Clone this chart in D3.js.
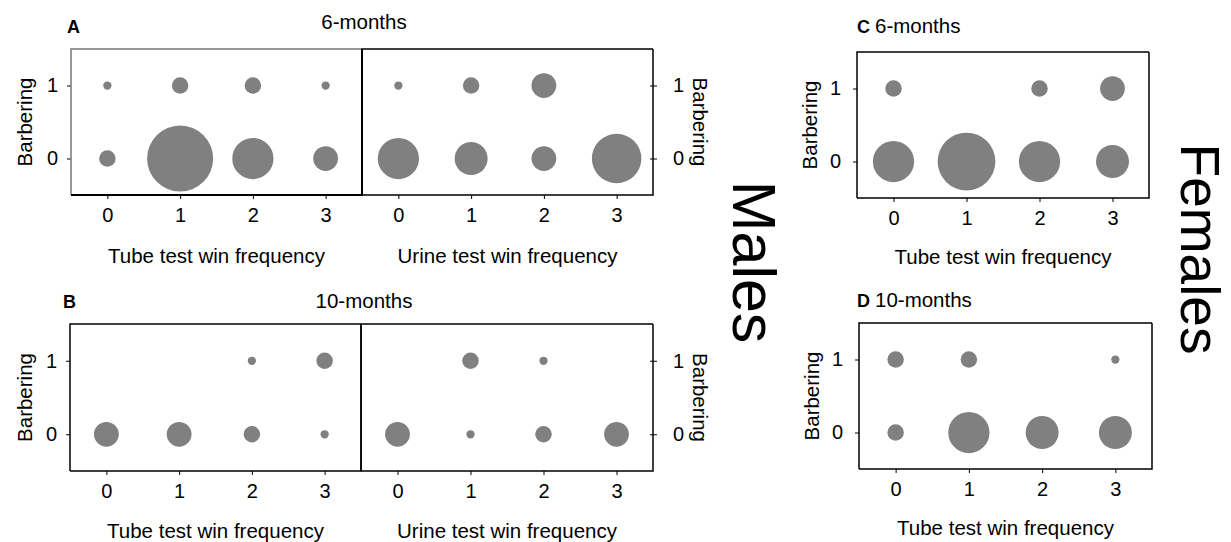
<html>
	<head>
		<script type="text/javascript" src="https://cdn.jsdelivr.net/npm/d3@7"></script>
		<style>
			body { margin: 0; background: #fff; }
			text { font-family: "Liberation Sans", Arial, sans-serif; fill: #000; }
		</style>
	</head>
	<body>
		<script type="text/javascript">

			// categories
			var winCats = [0, 1, 2, 3],
				barbCats = [0, 1];

			// counts: [barbering 0 row, barbering 1 row], columns = win frequency 0..3
			var maleTube6   = [[2, 8, 5, 3], [1, 2, 2, 1]],
				maleUrine6  = [[5, 4, 3, 6], [1, 2, 3, 0]],
				maleTube10  = [[3, 3, 2, 1], [0, 0, 1, 2]],
				maleUrine10 = [[3, 1, 2, 3], [0, 2, 1, 0]],
				femTube6    = [[5, 7, 5, 4], [2, 0, 2, 3]],
				femTube10   = [[2, 5, 4, 4], [2, 2, 0, 1]];

			var tubeTitle = 'Tube test win frequency',
				urineTitle = 'Urine test win frequency',
				yTitle = 'Barbering';

			var width = 1231,
				height = 542,
				tickFont = '20px',
				titleFont = '20.5px';

			var svg = d3.select('body').append('svg')
				.attr('width', width)
				.attr('height', height);

			// bubble radius grows linearly with count
			var r = d3.scaleLinear().domain([0, 8]).range([0, 33]);

			function panel(p){
				var x = d3.scaleLinear().domain([-0.5, 3.5]).range([p.x0, p.x1]),
					y = d3.scaleLinear().domain([-0.5, 1.5]).range([p.y1, p.y0]);

				var g = svg.append('g');

				// bubbles
				var pts = [];
				p.data.forEach(function(row, bi){
					row.forEach(function(n, wi){
						if(n > 0) pts.push({w: winCats[wi], b: barbCats[bi], n: n});
					});
				});
				g.selectAll('circle').data(pts).enter().append('circle')
					.attr('cx', function(d){ return x(d.w); })
					.attr('cy', function(d){ return y(d.b); })
					.attr('r', function(d){ return r(d.n); })
					.style('fill', '#808080');

				// x axis
				var xa = g.append('g')
					.attr('transform', 'translate(0,' + p.y1 + ')')
					.call(d3.axisBottom(x).tickValues(winCats).tickSize(4).tickPadding(9).tickFormat(d3.format('d')));
				xa.select('.domain').remove();
				xa.selectAll('text').style('font-size', tickFont).attr('fill', '#000');

				g.append('text')
					.attr('x', (p.x0 + p.x1) / 2)
					.attr('y', p.xTitleY)
					.attr('text-anchor', 'middle')
					.style('font-size', titleFont)
					.text(p.xTitle);

				// y axis
				if(p.yLeft){
					var ya = g.append('g')
						.attr('transform', 'translate(' + p.x0 + ',0)')
						.call(d3.axisLeft(y).tickValues(barbCats).tickSize(4).tickPadding(p.yPad || 9).tickFormat(d3.format('d')));
					ya.select('.domain').remove();
					ya.selectAll('text').style('font-size', tickFont).attr('fill', '#000');

					g.append('text')
						.attr('transform', 'translate(' + p.yTitleX + ',' + (y(0) + y(1)) / 2 + ') rotate(-90)')
						.attr('text-anchor', 'middle')
						.style('font-size', titleFont)
						.text(yTitle);
				}
				if(p.yRight){
					var yr = g.append('g')
						.attr('transform', 'translate(' + p.x1 + ',0)')
						.call(d3.axisRight(y).tickValues(barbCats).tickSize(4).tickPadding(16).tickFormat(d3.format('d')));
					yr.select('.domain').remove();
					yr.selectAll('line').attr('x1', -3);
					yr.selectAll('text').style('font-size', tickFont).attr('fill', '#000');

					g.append('text')
						.attr('transform', 'translate(' + p.yTitleRX + ',' + (y(0) + y(1)) / 2 + ') rotate(90)')
						.attr('text-anchor', 'middle')
						.style('font-size', titleFont)
						.text(yTitle);
				}

				// frame
				var fc = p.frame || '#000';
				g.append('path')
					.attr('d', 'M' + p.x1 + ',' + p.y0 + 'H' + p.x0 + 'V' + p.y1)
					.style('fill', 'none').style('stroke', fc).style('stroke-width', 1.5);
				g.append('path')
					.attr('d', 'M' + p.x0 + ',' + p.y1 + 'H' + p.x1 + 'V' + p.y0)
					.style('fill', 'none').style('stroke', '#000').style('stroke-width', p.rightW || 1.5);
			}

			// Males, 6 months
			panel({x0: 71, x1: 362, y0: 49, y1: 195, data: maleTube6, xTitle: tubeTitle, xTitleY: 263,
				yLeft: true, yTitleX: 32, frame: '#777', rightW: 2});
			panel({x0: 362, x1: 653, y0: 49, y1: 195, data: maleUrine6, xTitle: urineTitle, xTitleY: 263,
				yRight: true, yTitleRX: 693});

			// Males, 10 months
			panel({x0: 70, x1: 361, y0: 324, y1: 471, data: maleTube10, xTitle: tubeTitle, xTitleY: 538,
				yLeft: true, yTitleX: 32});
			panel({x0: 361, x1: 653, y0: 324, y1: 471, data: maleUrine10, xTitle: urineTitle, xTitleY: 538,
				yRight: true, yTitleRX: 693});

			// Females
			panel({x0: 857, x1: 1149, y0: 52, y1: 198, data: femTube6, xTitle: tubeTitle, xTitleY: 264,
				yLeft: true, yTitleX: 817, yPad: 12});
			panel({x0: 859, x1: 1152, y0: 323, y1: 469, data: femTube10, xTitle: tubeTitle, xTitleY: 535,
				yLeft: true, yTitleX: 819, yPad: 12});

			// panel letters and titles
			function label(txt, xx, yy, bold, anchor, size){
				svg.append('text')
					.attr('x', xx).attr('y', yy)
					.attr('text-anchor', anchor || 'start')
					.style('font-size', (size || 20.5) + 'px')
					.style('font-weight', bold ? 'bold' : 'normal')
					.text(txt);
			}
			label('A', 67, 33, true, 'start', 18);
			label('6-months', 364, 29, false, 'middle');
			label('B', 63, 308, true, 'start', 18);
			label('10-months', 364, 308, false, 'middle');
			label('C', 857, 33, true, 'start', 18);
			label('6-months', 875, 33);
			label('D', 857, 307, true, 'start', 18);
			label('10-months', 875, 307);

			// big group labels
			svg.append('text')
				.attr('transform', 'translate(733,262) rotate(90)')
				.attr('text-anchor', 'middle')
				.style('font-size', '61px')
				.text('Males');
			svg.append('text')
				.attr('transform', 'translate(1181,249) rotate(90)')
				.attr('text-anchor', 'middle')
				.style('font-size', '55px')
				.text('Females');

		</script>
	</body>
</html>
